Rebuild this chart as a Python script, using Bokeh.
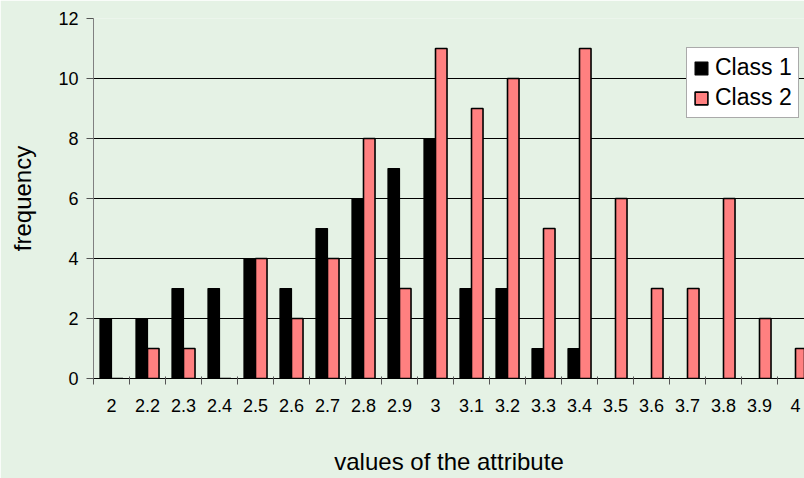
from bokeh.plotting import figure
from bokeh.models import (ColumnDataSource, FixedTicker, Legend, LegendItem,
                          Range1d)
from bokeh.transform import dodge
from bokeh.embed import file_html
from bokeh.resources import INLINE

# attribute values (bins) and the count of samples of each class per bin
values = ["2", "2.2", "2.3", "2.4", "2.5", "2.6", "2.7", "2.8", "2.9", "3",
          "3.1", "3.2", "3.3", "3.4", "3.5", "3.6", "3.7", "3.8", "3.9", "4"]
class1 = [2, 2, 3, 3, 4, 3, 5, 6, 7, 8, 3, 3, 1, 1, 0, 0, 0, 0, 0, 0]
class2 = [0, 1, 1, 0, 4, 2, 4, 8, 3, 11, 9, 10, 5, 11, 6, 3, 3, 6, 2, 1]
y_ticks = [0, 2, 4, 6, 8, 10, 12]

FONT = "Liberation Sans"
BG = "#E5F2E5"
PINK = "#FF8080"

idx = list(range(len(values)))
src = ColumnDataSource(dict(idx=idx, c1=class1, c2=class2))

p = figure(width=804, height=478, output_backend="svg", toolbar_location=None,
           x_range=Range1d(-0.5, -0.5 + 711 / 36), y_range=Range1d(0, 12),
           min_border_left=93, min_border_right=0, min_border_top=18,
           min_border_bottom=100)
p.background_fill_color = BG
p.border_fill_color = BG
p.outline_line_color = None

bw = 0.32
r1 = p.vbar(x=dodge("idx", -bw / 2, range=p.x_range), top="c1", width=bw,
            source=src, fill_color="black", line_color="black", line_width=1.2)
r2 = p.vbar(x=dodge("idx", bw / 2, range=p.x_range), top="c2", width=bw,
            source=src, fill_color=PINK, line_color="black", line_width=1.6)

# x axis: labels under each bin, tick marks on the bin boundaries
xa = p.xaxis[0]
xa.ticker = FixedTicker(ticks=idx, minor_ticks=[i - 0.5 for i in range(len(values) + 1)])
xa.major_label_overrides = {i: v for i, v in zip(idx, values)}
xa.major_tick_out = 0
xa.major_tick_in = 0
xa.minor_tick_out = 6
xa.minor_tick_in = 2
xa.minor_tick_line_color = "#555555"
xa.axis_line_color = "black"
xa.major_label_text_font = FONT
xa.major_label_text_font_size = "18px"
xa.major_label_text_color = "black"
xa.major_label_standoff = 14
xa.axis_label = "values of the attribute"
xa.axis_label_text_font = FONT
xa.axis_label_text_font_size = "24px"
xa.axis_label_text_font_style = "normal"
xa.axis_label_text_color = "black"
xa.axis_label_standoff = 33

ya = p.yaxis[0]
ya.ticker = FixedTicker(ticks=y_ticks)
ya.minor_tick_line_color = None
ya.major_tick_out = 7
ya.major_tick_in = 0
ya.major_tick_line_color = "#555555"
ya.axis_line_color = "#808080"
ya.major_label_text_font = FONT
ya.major_label_text_font_size = "18px"
ya.major_label_text_color = "black"
ya.major_label_standoff = 8
ya.axis_label = "frequency"
ya.axis_label_text_font = FONT
ya.axis_label_text_font_size = "24px"
ya.axis_label_text_font_style = "normal"
ya.axis_label_text_color = "black"
ya.axis_label_standoff = 19

p.xgrid.grid_line_color = None
p.ygrid.ticker = FixedTicker(ticks=y_ticks)
p.ygrid.grid_line_color = "black"
p.ygrid.grid_line_width = 1

legend = Legend(items=[LegendItem(label="Class 1", renderers=[r1]),
                       LegendItem(label="Class 2", renderers=[r2])],
                location=(593, 260))
legend.background_fill_color = "white"
legend.background_fill_alpha = 1
legend.border_line_color = "#555555"
legend.border_line_width = 1
legend.label_text_font = FONT
legend.label_text_font_size = "23px"
legend.label_text_color = "black"
legend.glyph_width = 16
legend.glyph_height = 16
legend.label_height = 26
legend.label_standoff = 6
legend.spacing = 3
legend.padding = 6
legend.margin = 0
p.add_layout(legend)

open("out.html", "w").write(file_html(p, INLINE))
